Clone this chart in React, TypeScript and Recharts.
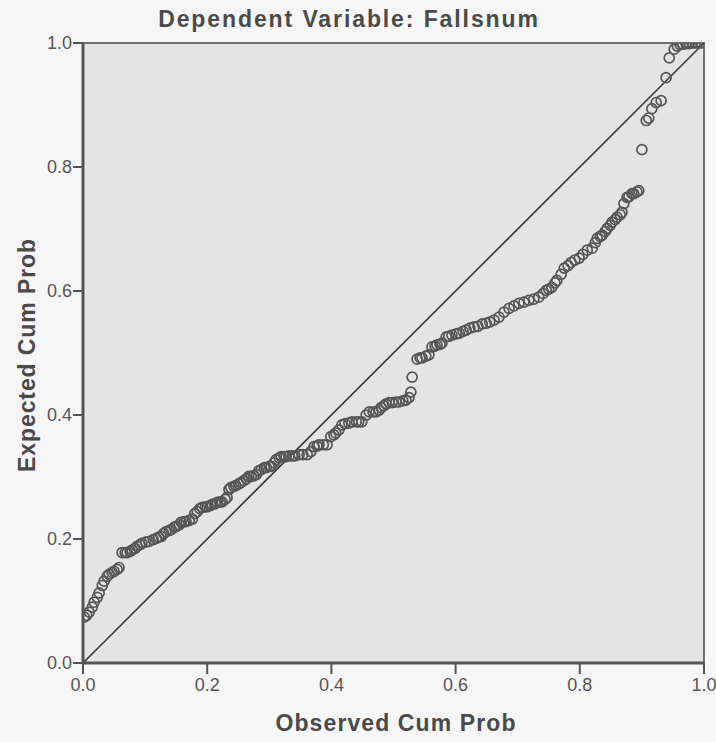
import React from "react";
import {
  ScatterChart,
  Scatter,
  XAxis,
  YAxis,
  ReferenceLine,
  ReferenceArea,
} from "recharts";

const chartTitle = "Dependent Variable: Fallsnum";
const xAxisTitle = "Observed Cum Prob";
const yAxisTitle = "Expected Cum Prob";
const tickValues = [0, 0.2, 0.4, 0.6, 0.8, 1.0];

const observedCumProb = [
  0.002, 0.006, 0.010, 0.015, 0.018, 0.023, 0.026, 0.031, 0.034, 0.039,
  0.042, 0.047, 0.050, 0.055, 0.058, 0.063, 0.068, 0.071, 0.076, 0.079,
  0.084, 0.087, 0.092, 0.095, 0.101, 0.106, 0.113, 0.118, 0.122, 0.126,
  0.130, 0.134, 0.139, 0.142, 0.147, 0.150, 0.155, 0.158, 0.163, 0.166,
  0.171, 0.176, 0.180, 0.184, 0.188, 0.192, 0.197, 0.200, 0.205, 0.208,
  0.213, 0.216, 0.221, 0.224, 0.229, 0.232, 0.235, 0.238, 0.243, 0.246,
  0.251, 0.254, 0.259, 0.263, 0.267, 0.271, 0.275, 0.279, 0.283, 0.287,
  0.292, 0.295, 0.300, 0.303, 0.308, 0.311, 0.316, 0.319, 0.324, 0.327,
  0.332, 0.337, 0.341, 0.348, 0.354, 0.361, 0.367, 0.372, 0.377, 0.380,
  0.387, 0.393, 0.399, 0.404, 0.407, 0.412, 0.417, 0.422, 0.428, 0.433,
  0.440, 0.444, 0.449, 0.456, 0.461, 0.467, 0.472, 0.477, 0.480, 0.485,
  0.488, 0.493, 0.498, 0.504, 0.509, 0.515, 0.520, 0.525, 0.528, 0.530,
  0.538, 0.543, 0.546, 0.552, 0.557, 0.562, 0.567, 0.570, 0.575, 0.578,
  0.585, 0.589, 0.594, 0.601, 0.606, 0.612, 0.617, 0.623, 0.630, 0.636,
  0.643, 0.649, 0.655, 0.662, 0.670, 0.678, 0.686, 0.694, 0.702, 0.710,
  0.718, 0.726, 0.734, 0.741, 0.746, 0.750, 0.755, 0.760, 0.763, 0.770,
  0.775, 0.781, 0.786, 0.792, 0.799, 0.805, 0.812, 0.820, 0.825, 0.828,
  0.833, 0.836, 0.841, 0.844, 0.849, 0.852, 0.857, 0.860, 0.865, 0.868,
  0.871, 0.876, 0.879, 0.884, 0.887, 0.892, 0.895, 0.900, 0.907, 0.911,
  0.916, 0.923, 0.931, 0.939, 0.944, 0.952, 0.957, 0.961, 0.966, 0.971,
  0.976, 0.981, 0.986, 0.990, 0.995,
];

const expectedCumProb = [
  0.074, 0.077, 0.082, 0.090, 0.098, 0.106, 0.113, 0.125, 0.132, 0.140,
  0.143, 0.146, 0.148, 0.151, 0.154, 0.178, 0.178, 0.178, 0.180, 0.182,
  0.185, 0.188, 0.191, 0.193, 0.195, 0.196, 0.199, 0.201, 0.203, 0.204,
  0.209, 0.212, 0.214, 0.215, 0.219, 0.220, 0.223, 0.227, 0.228, 0.228,
  0.230, 0.232, 0.241, 0.244, 0.249, 0.251, 0.252, 0.252, 0.254, 0.256,
  0.257, 0.259, 0.260, 0.260, 0.264, 0.267, 0.280, 0.283, 0.285, 0.286,
  0.289, 0.291, 0.294, 0.297, 0.301, 0.301, 0.302, 0.304, 0.310, 0.312,
  0.315, 0.315, 0.317, 0.317, 0.323, 0.328, 0.331, 0.333, 0.333, 0.333,
  0.334, 0.334, 0.334, 0.336, 0.336, 0.336, 0.341, 0.349, 0.350, 0.352,
  0.352, 0.352, 0.365, 0.368, 0.371, 0.376, 0.384, 0.386, 0.387, 0.389,
  0.389, 0.389, 0.389, 0.400, 0.405, 0.405, 0.405, 0.408, 0.412, 0.415,
  0.418, 0.420, 0.420, 0.421, 0.421, 0.423, 0.424, 0.428, 0.437, 0.461,
  0.490, 0.492, 0.492, 0.495, 0.497, 0.510, 0.511, 0.513, 0.514, 0.516,
  0.526, 0.527, 0.529, 0.531, 0.532, 0.535, 0.537, 0.540, 0.542, 0.543,
  0.547, 0.548, 0.550, 0.553, 0.558, 0.566, 0.572, 0.576, 0.580, 0.582,
  0.585, 0.587, 0.590, 0.596, 0.601, 0.603, 0.606, 0.613, 0.617, 0.627,
  0.637, 0.641, 0.646, 0.650, 0.653, 0.659, 0.666, 0.669, 0.678, 0.685,
  0.688, 0.690, 0.696, 0.701, 0.706, 0.711, 0.715, 0.719, 0.723, 0.727,
  0.741, 0.751, 0.752, 0.757, 0.757, 0.760, 0.762, 0.828, 0.875, 0.879,
  0.894, 0.904, 0.907, 0.944, 0.976, 0.990, 0.995, 0.998, 0.998, 0.999,
  0.999, 1.0, 1.0, 1.0, 1.0,
];

const points = observedCumProb.map((x, i) => ({ x, y: expectedCumProb[i] }));

const FONT = "'Liberation Sans', Arial, sans-serif";
const TEXT = "#555555";
const TITLE = "#4a4a4a";

const HollowCircle = (props: any) => {
  const { cx, cy } = props;
  if (cx == null || cy == null) return null;
  return (
    <circle cx={cx} cy={cy} r={5} fill="none" stroke="#565656" strokeWidth={1.7} />
  );
};

export default function App() {
  return (
    <div
      style={{
        position: "absolute",
        left: 0,
        top: 0,
        width: 716,
        height: 742,
        background: "#f6f6f6",
      }}
    >
      <ScatterChart
        width={716}
        height={742}
        margin={{ top: 43, right: 12, bottom: 49, left: 23 }}
      >
        <ReferenceArea
          x1={0}
          x2={1}
          y1={0}
          y2={1}
          fill="#e4e4e4"
          fillOpacity={1}
          stroke="#707070"
          strokeWidth={2}
        />
        <XAxis
          type="number"
          dataKey="x"
          domain={[0, 1]}
          ticks={tickValues}
          tickFormatter={(v: number) => v.toFixed(1)}
          height={30}
          axisLine={{ stroke: "#555555", strokeWidth: 3 }}
          tickLine={{ stroke: "#555555", strokeWidth: 2 }}
          tickSize={11}
          tickMargin={4}
          tick={{ fill: TEXT, fontSize: 18, fontFamily: FONT }}
          allowDataOverflow
        />
        <YAxis
          type="number"
          dataKey="y"
          domain={[0, 1]}
          ticks={tickValues}
          tickFormatter={(v: number) => v.toFixed(1)}
          width={60}
          axisLine={{ stroke: "#555555", strokeWidth: 3 }}
          tickLine={{ stroke: "#555555", strokeWidth: 2 }}
          tickSize={10}
          tickMargin={1}
          tick={{ fill: TEXT, fontSize: 18, fontFamily: FONT }}
          allowDataOverflow
        />
        <ReferenceLine
          segment={[
            { x: 0, y: 0 },
            { x: 1, y: 1 },
          ]}
          stroke="#3f3f3f"
          strokeWidth={1.7}
          ifOverflow="visible"
        />
        <Scatter
          data={points}
          shape={HollowCircle}
          isAnimationActive={false}
        />
        <text
          x={349}
          y={27}
          textAnchor="middle"
          fontFamily={FONT}
          fontSize={23}
          fontWeight={700}
          letterSpacing={1.9}
          fill={TITLE}
        >
          {chartTitle}
        </text>
        <text
          x={396}
          y={731}
          textAnchor="middle"
          fontFamily={FONT}
          fontSize={23}
          fontWeight={700}
          letterSpacing={1.1}
          fill={TITLE}
        >
          {xAxisTitle}
        </text>
        <text
          x={35}
          y={355}
          textAnchor="middle"
          fontFamily={FONT}
          fontSize={23}
          fontWeight={700}
          letterSpacing={0.9}
          fill={TITLE}
          transform="rotate(-90 35 355)"
        >
          {yAxisTitle}
        </text>
      </ScatterChart>
    </div>
  );
}
